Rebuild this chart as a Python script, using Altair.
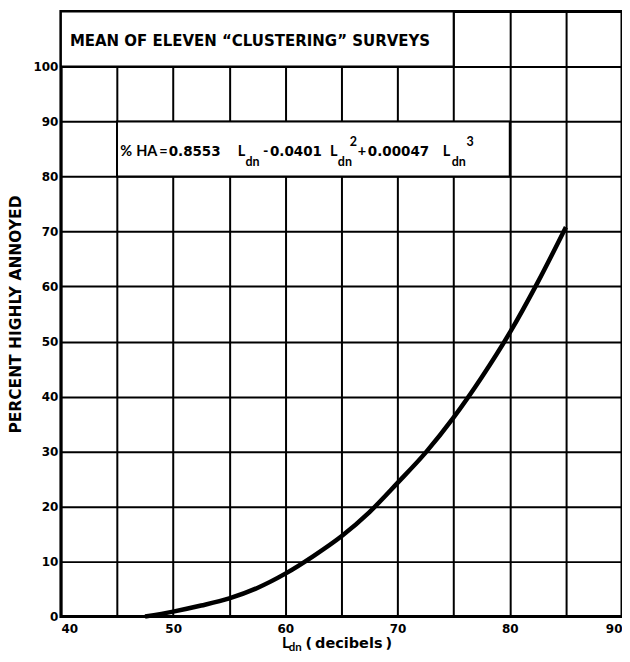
import altair as alt
import pandas as pd

# Curve
ldn = [47.5, 50, 52.5, 55, 57.5, 60, 62.5, 65, 67.5, 70, 72.5, 75, 77.5, 80, 82.5, 85]
pct_ha = [0, 0.9, 2.0, 3.3, 5.2, 7.8, 11.0, 14.6, 19.0, 24.3, 29.8, 36.2, 43.5, 51.6, 60.8, 70.8]

x_ticks = [40, 45, 50, 55, 60, 65, 70, 75, 80, 85, 90]
y_ticks = [0, 10, 20, 30, 40, 50, 60, 70, 80, 90, 100]

# White label boxes inside the grid
box_x = [40, 45]
box_x2 = [75, 80]
box_y = [100, 80]
box_y2 = [110, 90]

title_text = ["MEAN OF ELEVEN \u201cCLUSTERING\u201d SURVEYS"]
title_x = [40.8]
title_y = [103.7]

# equation pieces: letters/operators and numbers
eq_word = ["%", "HA", "=", "L", "-", "L", "+", "L"]
eq_word_x = [45.29, 46.71, 48.76, 55.75, 58.01, 63.97, 66.46, 74.02]
eq_word_y = [83.8] * 8
eq_num = ["0.8553", "0.0401", "0.00047"]
eq_num_x = [49.6, 58.63, 67.35]
eq_num_y = [83.8] * 3
eq_sub = ["dn", "dn", "dn"]
eq_sub_x = [56.45, 64.68, 74.82]
eq_sub_y = [82.0, 82.0, 82.0]
eq_sup = ["2", "3"]
eq_sup_x = [65.75, 76.15]
eq_sup_y = [85.6, 85.6]

xt_l = ["L"]
xt_l_x = [59.7]
xt_main = ["(\u2009decibels\u2009)"]
xt_main_x = [61.8]
xt_main_y = [-5.7]
xt_sub = ["dn"]
xt_sub_x = [60.3]
xt_sub_y = [-6.3]

FONT = "DejaVu Sans"
EQ_FONT = "Lato"

xs = alt.Scale(domain=[40, 90], nice=False, zero=False)
ys = alt.Scale(domain=[0, 110], nice=False, zero=False)

curve_df = pd.DataFrame({"ldn": ldn, "pct": pct_ha})
box_df = pd.DataFrame({"x": box_x, "x2": box_x2, "y": box_y, "y2": box_y2})

x_axis = alt.Axis(values=x_ticks, grid=True, gridColor="black", gridWidth=2, gridOpacity=1,
                  ticks=False, domain=False, labelFont=FONT, labelFontWeight="bold",
                  labelFontSize=12, labelColor="black", labelPadding=7,
                  labelExpr="datum.value % 10 == 0 ? datum.label : ''", title=None)
y_axis = alt.Axis(values=y_ticks, grid=True, gridColor="black", gridWidth=2, gridOpacity=1,
                  ticks=False, domain=False, labelFont=FONT, labelFontWeight="bold",
                  labelFontSize=12, labelColor="black", labelPadding=3,
                  title="PERCENT HIGHLY ANNOYED", titleFont=FONT, titleFontWeight="bold",
                  titleFontSize=15.5, titleColor="black", titlePadding=9)

curve = alt.Chart(curve_df).mark_line(color="black", strokeWidth=4.5, interpolate="monotone").encode(
    x=alt.X("ldn:Q", scale=xs, axis=x_axis),
    y=alt.Y("pct:Q", scale=ys, axis=y_axis),
)

boxes = alt.Chart(box_df).mark_rect(fill="white", stroke="black", strokeWidth=2).encode(
    x=alt.X("x:Q", scale=xs), x2="x2:Q",
    y=alt.Y("y:Q", scale=ys), y2="y2:Q",
)

def text_layer(texts, xv, yv, size, font=FONT):
    df = pd.DataFrame({"t": texts, "x": xv, "y": yv})
    return alt.Chart(df).mark_text(align="left", baseline="alphabetic", font=font,
                                   fontWeight="bold", fontSize=size, color="black").encode(
        x=alt.X("x:Q", scale=xs), y=alt.Y("y:Q", scale=ys), text="t:N")

layers = [
    curve,
    boxes,
    text_layer(title_text, title_x, title_y, 15),
    text_layer(eq_word, eq_word_x, eq_word_y, 14.5, EQ_FONT),
    text_layer(eq_num, eq_num_x, eq_num_y, 13.5),
    text_layer(eq_sub, eq_sub_x, eq_sub_y, 12.5, EQ_FONT),
    text_layer(eq_sup, eq_sup_x, eq_sup_y, 12.5, EQ_FONT),
    text_layer(xt_l, xt_l_x, xt_main_y, 15.5, EQ_FONT),
    text_layer(xt_main, xt_main_x, xt_main_y, 14.5),
    text_layer(xt_sub, xt_sub_x, xt_sub_y, 11.5, EQ_FONT),
]

chart = alt.layer(*layers).properties(
    width=562, height=606,
    autosize=alt.AutoSizeParams(type="none"),
    padding={"left": 53, "top": 3, "right": 0, "bottom": 37},
    background="white",
).configure_view(stroke="black", strokeWidth=3)

chart.save("out.html", embed_options={"renderer": "svg", "actions": False})
